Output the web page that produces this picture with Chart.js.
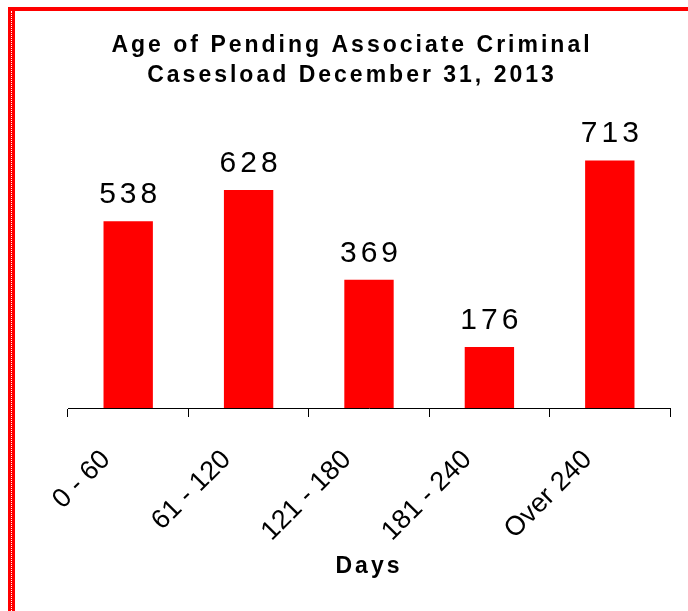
<!DOCTYPE html>
<html>
<head>
<meta charset="utf-8">
<script src="https://cdn.jsdelivr.net/npm/chart.js@4.4.0/dist/chart.umd.min.js"></script>
<style>
  html, body { margin: 0; padding: 0; background: #fff; }
  #wrap { position: relative; width: 688px; height: 611px; }
  #frame {
    position: absolute; left: 8px; top: 7px; right: 0; bottom: 0;
    border-top: 4px solid #ff0000;
    border-left: 7px solid #ff0000;
    pointer-events: none;
  }
  #frame::before {
    content: ''; position: absolute; left: -4px; top: 0; bottom: 0;
    border-left: 1px dotted #fff;
  }
</style>
</head>
<body>
<div id="wrap">
  <canvas id="myChart" width="688" height="611"></canvas>
  <div id="frame"></div>
</div>
<script>
const categories = ['0 - 60', '61 - 120', '121 - 180', '181 - 240', 'Over 240'];
const pending = [538, 628, 369, 176, 713];
const titleLines = ['Age of Pending Associate Criminal', 'Casesload December 31, 2013'];
const axisTitle = 'Days';

const fontFamily = '"Liberation Sans", Arial, sans-serif';

// spacing for title/axis title, then plain ticks drawn after datasets
const spacingPlugin = {
    id: 'spacing',
    beforeDraw(chart) {
        chart.ctx.letterSpacing = '3px';
    },
    beforeDatasetsDraw(chart) {
        chart.ctx.letterSpacing = '0px';
    }
};

const valueLabels = {
    id: 'valueLabels',
    afterDatasetsDraw(chart) {
        const ctx = chart.ctx;
        const meta = chart.getDatasetMeta(0);
        const gap = 4;
        ctx.save();
        ctx.letterSpacing = gap + 'px';
        ctx.font = '30px ' + fontFamily;
        ctx.fillStyle = '#000';
        ctx.textAlign = 'center';
        ctx.textBaseline = 'alphabetic';
        meta.data.forEach((bar, i) => {
            ctx.fillText(String(pending[i]), bar.x + gap / 2, bar.y - 18);
        });
        ctx.restore();
    }
};

const ctx = document.getElementById('myChart').getContext('2d');
new Chart(ctx, {
    type: 'bar',
    data: {
        labels: categories,
        datasets: [{
            data: pending,
            backgroundColor: '#ff0000',
            borderWidth: 0,
            categoryPercentage: 1,
            barPercentage: 0.41
        }]
    },
    options: {
        responsive: false,
        animation: false,
        layout: { padding: { left: 34, right: 18, top: 0, bottom: 0 } },
        plugins: {
            legend: { display: false },
            tooltip: { enabled: false },
            title: {
                display: true,
                text: titleLines,
                color: '#000',
                font: { family: fontFamily, size: 23, weight: 'bold', lineHeight: 1.33 },
                padding: { top: 30, bottom: 39 }
            }
        },
        scales: {
            x: {
                grid: {
                    display: true,
                    drawOnChartArea: false,
                    drawTicks: true,
                    tickLength: 9,
                    color: '#000'
                },
                border: { display: true, color: '#000', width: 1 },
                ticks: {
                    z: 1,
                    color: '#000',
                    font: { family: fontFamily, size: 27 },
                    minRotation: 45,
                    maxRotation: 45,
                    padding: 27,
                    labelOffset: -22,
                    autoSkip: false
                },
                title: {
                    display: true,
                    text: axisTitle,
                    color: '#000',
                    font: { family: fontFamily, size: 23, weight: 'bold', lineHeight: 1.2 },
                    padding: { top: 0, bottom: 31 }
                },
                afterFit: scale => { scale.height = 203; }
            },
            y: {
                min: 0,
                max: 800,
                grid: { display: false },
                border: { display: false },
                ticks: { display: false },
                afterFit: scale => { scale.width = 34; }
            }
        }
    },
    plugins: [spacingPlugin, valueLabels]
});
</script>
</body>
</html>
